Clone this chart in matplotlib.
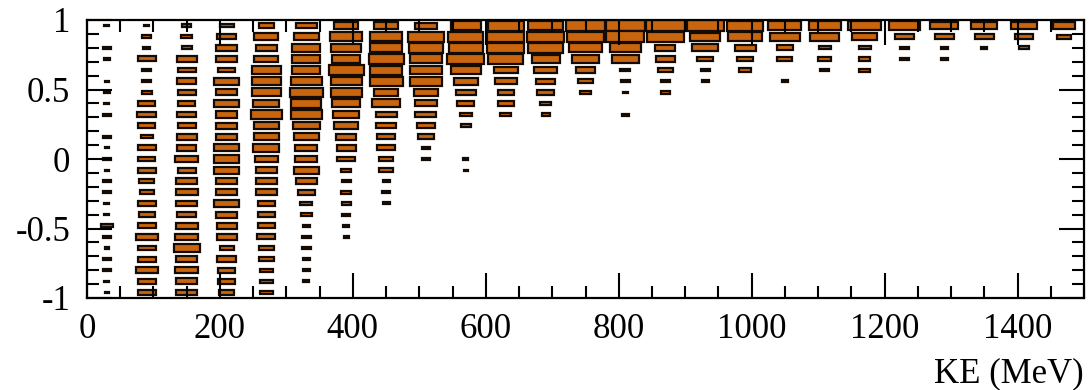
import matplotlib
matplotlib.use("Agg")
import matplotlib.pyplot as plt
from matplotlib.patches import Rectangle
from matplotlib.ticker import MultipleLocator, FormatStrFormatter

plt.rcParams['font.family'] = ['Liberation Serif', 'DejaVu Serif']
plt.rcParams['axes.unicode_minus'] = False

# KE bins (MeV) and cos(theta) bins
ke_edges = [i * 60 for i in range(26)]
cos_edges = [-1 + i * 0.08 for i in range(26)]
cmax = 95.0

# box size per KE bin, listed from the top cos bin (0.96) downwards
box_sizes = [
    [12, 0, 17, 13, 0, 8, 15, 12, 17, 0, 17, 10, 21, 10, 17, 17, 12, 12, 29, 21, 10, 18, 21, 12, 10],
    [12, 21, 17, 42, 21, 21, 25, 40, 46, 40, 29, 42, 40, 43, 35, 33, 42, 37, 43, 52, 42, 43, 52, 42, 42],
    [21, 25, 23, 48, 42, 46, 43, 40, 46, 43, 48, 46, 54, 43, 50, 52, 50, 46, 52, 54, 62, 50, 54, 50, 50],
    [33, 46, 52, 52, 42, 58, 52, 60, 52, 52, 52, 60, 60, 60, 52, 52, 60, 50, 48, 48, 33, 46, 42, 42, 37],
    [37, 57, 50, 57, 68, 68, 68, 62, 73, 60, 60, 62, 54, 52, 48, 52, 42, 42, 40, 43, 37, 37, 29, 29, 29],
    [50, 60, 67, 67, 67, 73, 77, 71, 73, 65, 58, 52, 52, 58, 50, 40, 29, 25, 18, 21, 21, 18, 18, 15],
    [58, 75, 71, 68, 83, 73, 73, 67, 62, 58, 48, 46, 42, 25, 21, 25, 21, 18, 15, 12],
    [58, 75, 75, 83, 77, 79, 58, 68, 50, 48, 42, 42, 32, 32, 17, 18, 17],
    [52, 85, 81, 77, 75, 75, 58, 52, 50, 42, 40, 21, 17],
    [70, 83, 81, 88, 71, 58, 46, 40, 29, 25, 0, 0, 12, 10],
    [85, 88, 88, 83, 58, 52, 38, 38, 27],
    [83, 88, 83, 67, 54, 45, 40, 28, 19],
    [94, 88, 79, 62, 46, 36, 27],
    [92, 90, 75, 65, 24, 22, 12, 0, 17],
    [92, 88, 48, 46, 35, 22, 22],
    [88, 71, 62, 38, 21, 17],
    [85, 79, 50, 38, 28],
    [79, 71, 40, 36, 0, 15],
    [77, 69, 29, 32, 21],
    [77, 60, 29, 27, 25],
    [75, 46, 21, 21],
    [67, 46, 17, 17],
    [62, 46, 15],
    [62, 42, 25],
    [54, 35],
]

fig = plt.figure(figsize=(10.91, 3.90), dpi=100)
ax = fig.add_axes([87 / 1091, 1 - 298 / 390, 997 / 1091, 278 / 390])

for i, col in enumerate(box_sizes):
    xc = 0.5 * (ke_edges[i] + ke_edges[i + 1])
    bw = ke_edges[i + 1] - ke_edges[i]
    for k, v in enumerate(col):
        if v <= 0:
            continue
        j = 24 - k
        yc = 0.5 * (cos_edges[j] + cos_edges[j + 1])
        bh = cos_edges[j + 1] - cos_edges[j]
        f = min(v / cmax, 1.0)
        ax.add_patch(Rectangle((xc - 0.5 * f * bw, yc - 0.5 * f * bh), f * bw, f * bh,
                               facecolor='#C8650E', edgecolor='#140c04', linewidth=1.6))

ax.set_xlim(0, 1500)
ax.set_ylim(-1, 1)

ax.xaxis.set_major_locator(MultipleLocator(200))
ax.xaxis.set_minor_locator(MultipleLocator(50))
ax.yaxis.set_major_locator(MultipleLocator(0.5))
ax.yaxis.set_minor_locator(MultipleLocator(0.1))
ax.yaxis.set_major_formatter(FormatStrFormatter('%g'))

ax.tick_params(which='both', direction='in', top=True, right=True, width=1.5,
               labelsize=25, color='black')
ax.tick_params(which='major', length=18)
ax.tick_params(which='minor', length=8.5)
ax.tick_params(axis='y', pad=12)
ax.tick_params(axis='x', pad=11)
for s in ax.spines.values():
    s.set_linewidth(1.6)

fig.text(1084 / 1091, 1 - 382 / 390, 'KE (MeV)', ha='right', va='baseline', fontsize=25)

fig.savefig('out.png', dpi=100)
